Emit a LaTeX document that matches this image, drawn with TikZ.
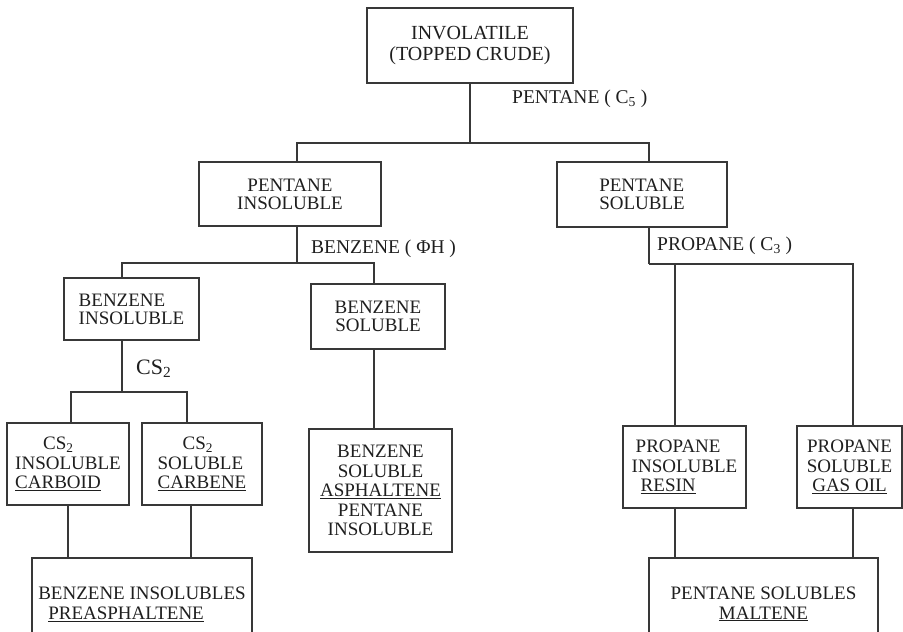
\documentclass[tikz,border=0pt]{standalone}
\usepackage{fontspec}
\setmainfont{Liberation Serif}

\begin{document}
\begin{tikzpicture}[
    x=1pt, y=-1pt,
    box/.style={draw=black!78, line width=1.1pt, align=center, inner sep=0pt,
                text=black!88, font=\fontsize{19}{19.5}\selectfont},
    sz/.style 2 args={minimum width=#1pt, minimum height=#2pt},
    lbl/.style={anchor=base west, inner sep=0pt, text=black!88,
                font=\fontsize{19.5}{19.5}\selectfont},
    link/.style={draw=black!78, line width=1.1pt},
  ]
  \useasboundingbox (0,0) rectangle (903,632);

  % ---------------------------------------------------------------
  % Boxes, top to bottom
  % ---------------------------------------------------------------
  \node[box, sz={206}{75}, font=\fontsize{20}{21}\selectfont] (top) at (470,45.5)
    {INVOLATILE\\(TOPPED CRUDE)};

  \node[box, sz={182}{64}, font=\fontsize{19}{18}\selectfont] (pins) at (290,194)
    {PENTANE\\INSOLUBLE};
  \node[box, sz={170}{65}, align=left, font=\fontsize{19}{18}\selectfont] (psol) at (642,194.5)
    {PENTANE\\SOLUBLE};

  \node[box, sz={135}{62}, align=left, font=\fontsize{19}{18}\selectfont] (bins) at (131.5,309)
    {BENZENE\\INSOLUBLE};
  \node[box, sz={134}{65}, font=\fontsize{19}{18}\selectfont] (bsol) at (378,316.5)
    {BENZENE\\SOLUBLE};

  \node[box, sz={122}{82}, align=left] (cs2ins) at (68,464)
    {\hspace*{28pt}CS\textsubscript{2}\\INSOLUBLE\\\underline{CARBOID}};
  \node[box, sz={120}{82}, align=left] (cs2sol) at (202,464)
    {\hspace*{25pt}CS\textsubscript{2}\\SOLUBLE\\\underline{CARBENE}};

  \node[box, sz={143}{123}] (asph) at (380.5,490.5)
    {BENZENE\\SOLUBLE\\\underline{ASPHALTENE}\\PENTANE\\INSOLUBLE};

  \node[box, sz={123}{82}, align=left] (prins) at (684.5,467)
    {\hspace*{4pt}PROPANE\\INSOLUBLE\\\hspace*{9pt}\underline{RESIN}};
  \node[box, sz={105}{82}] (prsol) at (849.5,467)
    {PROPANE\\SOLUBLE\\\underline{GAS OIL}};

  % bottom boxes run off the lower edge
  \node[box, sz={220}{92}, align=left, font=\fontsize{19}{20}\selectfont] (preasph) at (142,604)
    {BENZENE INSOLUBLES\\\hspace*{10pt}\underline{PREASPHALTENE}};
  \node[box, sz={229}{92}, font=\fontsize{19}{20}\selectfont] (malt) at (763.5,604)
    {PENTANE SOLUBLES\\\underline{MALTENE}};

  % ---------------------------------------------------------------
  % Solvent splits
  % ---------------------------------------------------------------
  \coordinate (c5bar) at (470,143);
  \draw[link] (top.south) -- (top.south |- c5bar);
  \draw[link] ([xshift=7pt]pins.north) |- (c5bar) -| ([xshift=7pt]psol.north);
  \node[lbl] (c5lbl) at (512,103) {PENTANE ( C\textsubscript{5} )};

  \coordinate (phbar) at (297,263);
  \draw[link] ([xshift=7pt]pins.south) -- (phbar);
  \draw[link] ([xshift=-9.5pt]bins.north) |- (phbar) -| ([xshift=-4pt]bsol.north);
  \node[lbl] (phlbl) at (311,253) {BENZENE ( ΦH )};

  \coordinate (c3bar) at (649,264);
  \draw[link] ([xshift=7pt]psol.south) -- (c3bar);
  \draw[link] ([xshift=-9.5pt]prins.north) |- (c3bar) -| ([xshift=3.5pt]prsol.north);
  \node[lbl] (c3lbl) at (657,250) {PROPANE ( C\textsubscript{3} )};

  \coordinate (csbar) at (122,392);
  \draw[link] ([xshift=-9.5pt]bins.south) -- (csbar);
  \draw[link] ([xshift=3pt]cs2ins.north) |- (csbar) -| ([xshift=-15pt]cs2sol.north);
  \node[lbl, font=\fontsize{22}{22}\selectfont] (cslbl) at (136,374) {CS\textsubscript{2}};

  \draw[link] ([xshift=-4pt]bsol.south) -- ([xshift=-6.5pt]asph.north);

  % ---------------------------------------------------------------
  % Fractions recombined below
  % ---------------------------------------------------------------
  \draw[link] (cs2ins.south) -- (cs2ins.south |- preasph.north);
  \draw[link] ([xshift=-11pt]cs2sol.south) -- ([xshift=-11pt]cs2sol.south |- preasph.north);
  \draw[link] ([xshift=-9.5pt]prins.south) -- ([xshift=-9.5pt]prins.south |- malt.north);
  \draw[link] ([xshift=3.5pt]prsol.south) -- ([xshift=3.5pt]prsol.south |- malt.north);
\end{tikzpicture}
\end{document}
